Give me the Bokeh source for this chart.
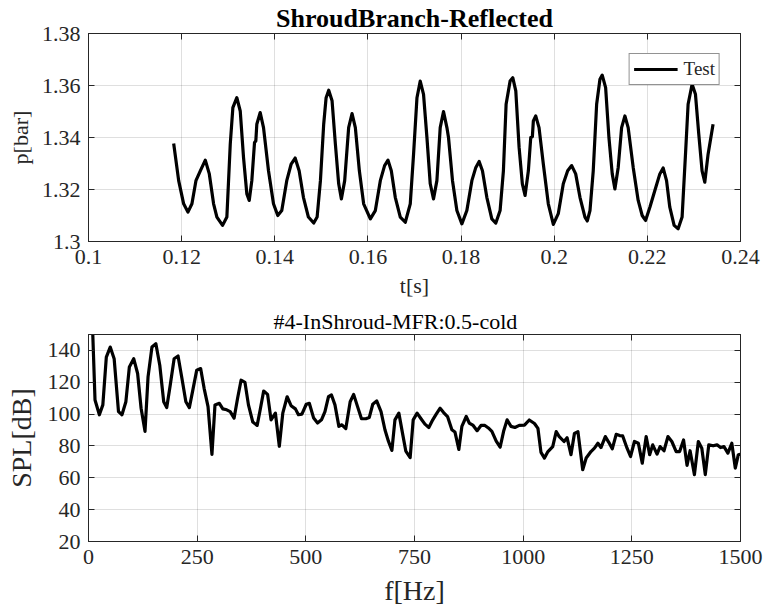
from bokeh.plotting import figure
from bokeh.layouts import column
from bokeh.models import Range1d, LinearAxis, FixedTicker, CustomJSTickFormatter
from bokeh.embed import file_html
from bokeh.resources import INLINE

# ---------------- data ----------------
top_title = "ShroudBranch-Reflected"
bottom_title = "#4-InShroud-MFR:0.5-cold"

t_s = [0.11829, 0.11936, 0.12043, 0.12135, 0.12221, 0.12307, 0.12401, 0.12508, 0.12594, 0.12686,
       0.12757, 0.12879, 0.12971, 0.13044, 0.13100, 0.13185, 0.13258, 0.13329, 0.13400, 0.13451,
       0.13507, 0.13565, 0.13593, 0.13614, 0.13687, 0.13758, 0.13865, 0.13972, 0.14064, 0.14150,
       0.14257, 0.14352, 0.14437, 0.14523, 0.14615, 0.14722, 0.14836, 0.14909, 0.14980, 0.15050,
       0.15102, 0.15158, 0.15230, 0.15301, 0.15372, 0.15430, 0.15501, 0.15586, 0.15659, 0.15730,
       0.15816, 0.15908, 0.16052, 0.16159, 0.16266, 0.16358, 0.16431, 0.16502, 0.16587, 0.16695,
       0.16802, 0.16909, 0.16980, 0.17053, 0.17123, 0.17194, 0.17267, 0.17338, 0.17408, 0.17481,
       0.17552, 0.17623, 0.17696, 0.17730, 0.17816, 0.17910, 0.18017, 0.18124, 0.18232, 0.18317,
       0.18388, 0.18459, 0.18553, 0.18660, 0.18746, 0.18838, 0.18909, 0.18967, 0.19053, 0.19110,
       0.19175, 0.19246, 0.19316, 0.19374, 0.19445, 0.19496, 0.19531, 0.19552, 0.19603, 0.19674,
       0.19766, 0.19873, 0.19981, 0.20087, 0.20195, 0.20289, 0.20375, 0.20461, 0.20553, 0.20660,
       0.20710, 0.20768, 0.20838, 0.20911, 0.20982, 0.21031, 0.21104, 0.21175, 0.21246, 0.21303,
       0.21374, 0.21447, 0.21518, 0.21588, 0.21696, 0.21803, 0.21889, 0.21961, 0.22054, 0.22161,
       0.22268, 0.22339, 0.22412, 0.22482, 0.22575, 0.22661, 0.22746, 0.22819, 0.22875, 0.22961,
       0.23033, 0.23104, 0.23175, 0.23233, 0.23304, 0.23411]
p_bar = [1.3377, 1.3234, 1.3145, 1.3113, 1.3145, 1.3234, 1.3272, 1.3313, 1.3260, 1.3145,
         1.3094, 1.3062, 1.3094, 1.3375, 1.3515, 1.3553, 1.3502, 1.3323, 1.3183, 1.3158,
         1.3234, 1.3381, 1.3387, 1.3451, 1.3496, 1.3438, 1.3272, 1.3145, 1.3100, 1.3119,
         1.3234, 1.3298, 1.3321, 1.3272, 1.3170, 1.3094, 1.3071, 1.3094, 1.3234, 1.3451,
         1.3553, 1.3582, 1.3541, 1.3375, 1.3222, 1.3164, 1.3234, 1.3438, 1.3492, 1.3438,
         1.3272, 1.3145, 1.3087, 1.3119, 1.3234, 1.3292, 1.3313, 1.3272, 1.3170, 1.3094,
         1.3074, 1.3145, 1.3336, 1.3553, 1.3617, 1.3566, 1.3400, 1.3222, 1.3164, 1.3234,
         1.3438, 1.3500, 1.3438, 1.3400, 1.3234, 1.3119, 1.3068, 1.3119, 1.3234, 1.3285,
         1.3308, 1.3272, 1.3170, 1.3087, 1.3071, 1.3119, 1.3272, 1.3528, 1.3617, 1.3630,
         1.3579, 1.3362, 1.3222, 1.3177, 1.3272, 1.3400, 1.3403, 1.3464, 1.3483, 1.3438,
         1.3298, 1.3145, 1.3066, 1.3107, 1.3222, 1.3272, 1.3292, 1.3260, 1.3170, 1.3094,
         1.3079, 1.3119, 1.3272, 1.3528, 1.3624, 1.3640, 1.3592, 1.3400, 1.3260, 1.3202,
         1.3285, 1.3438, 1.3483, 1.3438, 1.3285, 1.3158, 1.3100, 1.3081, 1.3132, 1.3196,
         1.3260, 1.3283, 1.3234, 1.3132, 1.3062, 1.3049, 1.3094, 1.3336, 1.3528, 1.3605,
         1.3566, 1.3413, 1.3272, 1.3228, 1.3336, 1.3451]

f_hz = [8, 15, 25, 33, 41, 50, 59, 69, 77, 86, 94, 104, 113, 121, 130, 137, 146, 155, 164, 173,
        180, 188, 197, 206, 215, 224, 232, 240, 249, 258, 266, 275, 284, 291, 301, 309, 318, 326, 335, 343,
        351, 360, 368, 378, 388, 395, 403, 412, 420, 430, 439, 447, 457, 466, 476, 483, 491, 501, 508, 518,
        527, 536, 544, 552, 559, 567, 576, 583, 592, 602, 610, 619, 628, 638, 646, 654, 663, 673, 682, 690,
        698, 705, 714, 723, 730, 740, 747, 756, 765, 774, 783, 792, 800, 809, 817, 826, 836, 843, 852, 859,
        869, 876, 885, 894, 903, 912, 920, 928, 938, 947, 955, 963, 972, 981, 991, 1003, 1014, 1026, 1034, 1041,
        1049, 1057, 1068, 1076, 1083, 1094, 1101, 1110, 1118, 1126, 1137, 1145, 1156, 1164, 1172, 1179, 1189, 1197, 1205, 1214,
        1222, 1229, 1239, 1247, 1256, 1265, 1274, 1283, 1291, 1298, 1308, 1315, 1324, 1333, 1342, 1352, 1360, 1369, 1377, 1384,
        1394, 1403, 1411, 1419, 1427, 1437, 1446, 1454, 1462, 1471, 1480, 1488, 1495, 1502]
spl_db = [165, 108.9, 99.6, 105.8, 135.8, 142.1, 134.8, 101.6, 99.6, 107.8, 129.6, 134.8, 125.5, 103.7, 89.2, 123.4, 142.1, 144.2, 130.7, 107.8,
          104.1, 118.2, 134.8, 136.5, 122.4, 107.8, 104.1, 115.1, 127.6, 128.6, 116.2, 104.7, 74.7, 105.8, 106.8, 103.3, 102.7, 101.6, 97.5, 110.0,
          121.3, 119.9, 105.8, 95.0, 92.9, 102.7, 114.5, 112.4, 96.4, 100.6, 79.8, 100.6, 110.9, 105.3, 103.3, 99.6, 100.0, 106.2, 106.8, 97.5,
          94.4, 96.4, 101.6, 110.9, 112.0, 105.8, 92.3, 93.3, 90.9, 107.8, 112.4, 104.7, 97.1, 97.1, 97.9, 106.2, 108.3, 101.6, 90.2, 83.0,
          77.2, 96.4, 100.6, 87.1, 76.8, 72.7, 96.4, 100.6, 97.1, 93.7, 91.6, 96.4, 100.0, 103.7, 101.0, 98.5, 90.2, 88.8, 77.8, 92.3,
          98.5, 94.4, 92.9, 89.6, 92.9, 92.9, 91.3, 89.2, 83.0, 79.2, 89.2, 96.4, 92.3, 91.6, 92.9, 93.1, 96.3, 94.1, 91.0, 76.0,
          72.4, 76.5, 79.6, 89.0, 85.9, 82.8, 85.2, 74.5, 87.9, 89.0, 65.1, 72.4, 76.5, 78.6, 81.7, 79.0, 85.9, 82.3, 78.2, 87.3,
          86.5, 86.3, 78.6, 73.4, 82.8, 81.7, 69.2, 85.9, 74.5, 80.7, 74.9, 79.6, 77.0, 85.9, 82.8, 76.5, 76.5, 83.8, 67.8, 77.0,
          62.0, 82.8, 78.6, 62.0, 80.7, 80.1, 80.7, 79.0, 79.6, 75.5, 81.7, 66.1, 74.5, 74.9]

top_x_ticks = [0.1, 0.12, 0.14, 0.16, 0.18, 0.2, 0.22, 0.24]
top_y_ticks = [1.3, 1.32, 1.34, 1.36, 1.38]
bot_x_ticks = [0, 250, 500, 750, 1000, 1250, 1500]
bot_y_ticks = [20, 40, 60, 80, 100, 120, 140]

# ---------------- styling ----------------
FONT = "Liberation Serif"
AX = "#262626"


def style_axis(ax, ticks):
    ax.ticker = FixedTicker(ticks=ticks)
    ax.major_tick_in = 6
    ax.major_tick_out = 0
    ax.minor_tick_line_color = None
    ax.axis_line_color = AX
    ax.major_tick_line_color = AX
    ax.major_label_text_font = FONT
    ax.major_label_text_color = AX
    ax.axis_label_text_font = FONT
    ax.axis_label_text_font_style = "normal"
    ax.axis_label_text_color = AX


def style(p, xt, yt, tick_size, fmt=None):
    bottom = p.below[0]
    left = p.left[0]
    blank = CustomJSTickFormatter(code="return '';")
    top = LinearAxis(formatter=blank, major_label_standoff=0)
    right = LinearAxis(formatter=blank, major_label_standoff=0)
    p.add_layout(top, "above")
    p.add_layout(right, "right")
    for ax, tk in ((bottom, xt), (top, xt), (left, yt), (right, yt)):
        style_axis(ax, tk)
    if fmt is not None:
        bottom.formatter = fmt
        left.formatter = fmt
    for ax in (bottom, left):
        ax.major_label_text_font_size = tick_size
        ax.major_label_standoff = 8
    p.grid.grid_line_color = AX
    p.grid.grid_line_alpha = 0.15
    p.outline_line_color = AX
    p.outline_line_alpha = 1
    p.background_fill_color = "white"
    p.border_fill_color = "white"
    p.title.text_font = FONT
    p.title.text_color = "black"
    p.title.align = "center"
    return bottom, left


fmt = CustomJSTickFormatter(code="return parseFloat(tick.toFixed(2)).toString();")

p1 = figure(width=763, height=305, x_range=Range1d(0.1, 0.24), y_range=Range1d(1.3, 1.38),
            output_backend="svg", toolbar_location=None, title=top_title,
            min_border_left=88, min_border_right=23, min_border_top=32, min_border_bottom=64)
p1.line(t_s, p_bar, line_width=3.2, line_color="black", line_join="round", legend_label="Test")
bx, ly = style(p1, top_x_ticks, top_y_ticks, "22px", fmt)
bx.axis_label = "t[s]"
ly.axis_label = "p[bar]"
bx.axis_label_text_font_size = "22px"
ly.axis_label_text_font_size = "22px"
bx.axis_label_standoff = 6
ly.axis_label_standoff = 6
p1.title.text_font_size = "26px"
p1.title.text_font_style = "bold"
p1.title.standoff = 2
lg = p1.legend[0]
lg.location = "top_right"
lg.margin = 20
lg.label_text_font = FONT
lg.label_text_font_size = "19px"
lg.label_text_color = AX
lg.glyph_width = 44
lg.glyph_height = 20
lg.label_height = 20
lg.padding = 4
lg.spacing = 0
lg.label_standoff = 6
lg.border_line_color = AX
lg.border_line_width = 1
lg.background_fill_alpha = 1

p2 = figure(width=763, height=305, x_range=Range1d(0, 1500), y_range=Range1d(20, 150),
            output_backend="svg", toolbar_location=None, title=bottom_title,
            min_border_left=88, min_border_right=23, min_border_top=28, min_border_bottom=69)
p2.line(f_hz, spl_db, line_width=3.2, line_color="black", line_join="round")
bx2, ly2 = style(p2, bot_x_ticks, bot_y_ticks, "22px")
bx2.axis_label = "f[Hz]"
ly2.axis_label = "SPL[dB]"
bx2.axis_label_text_font_size = "28px"
ly2.axis_label_text_font_size = "28px"
bx2.axis_label_standoff = 8
ly2.axis_label_standoff = 8
p2.title.text_font_size = "22px"
p2.title.text_font_style = "normal"
p2.title.standoff = 2
p2.title.align = "left"
p2.title.offset = 185

layout = column(p1, p2, spacing=0)
open("out.html", "w").write(file_html(layout, INLINE))
